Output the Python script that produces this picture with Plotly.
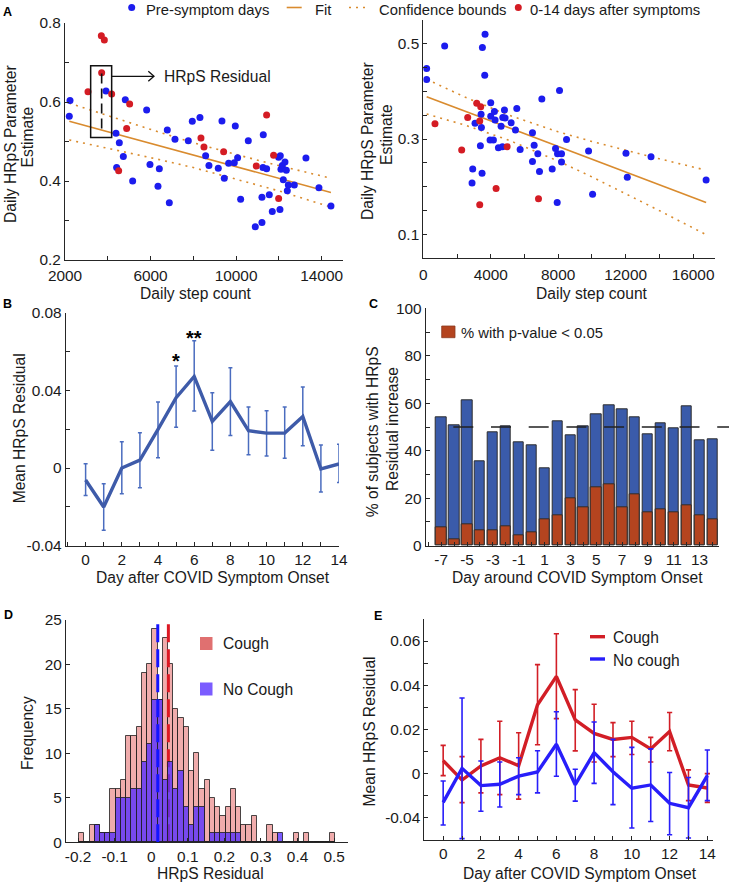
import plotly.graph_objects as go

W, H = 729, 883
def fx(p): return p / W
def fy(p): return 1 - p / H

FONT = "Liberation Sans, Arial, sans-serif"
TXT = "#1a1a1a"
AXC = "#262626"
TICKFS = 15.4
TITLEFS = 15.6
LEGFS = 14.8

# ---------------- Panel A (left) ----------------
a1_pre_x = [2234, 2200, 3917, 4384, 4540, 4415, 4727, 4820, 5164, 5818, 5974, 6411, 6348, 6784, 6878, 7143, 7766, 7953, 8311, 8576,
            8732, 9168, 9340, 9449, 9652, 9917, 10072, 9963, 10571, 10213, 10898, 11210, 11272, 11210, 11257, 11428, 11553, 11693, 12052, 11990,
            12068, 12099, 12162, 12208, 12286, 12349, 12396, 12443, 12723, 13267, 13875, 14436]
a1_pre_y = [0.604, 0.564, 0.628, 0.521, 0.497, 0.434, 0.462, 0.606, 0.400, 0.580, 0.442, 0.431, 0.387, 0.529, 0.345, 0.506, 0.502, 0.551, 0.561, 0.464,
            0.439, 0.432, 0.552, 0.407, 0.445, 0.446, 0.459, 0.539, 0.502, 0.354, 0.284, 0.295, 0.517, 0.359, 0.434, 0.431, 0.365, 0.323, 0.328, 0.460,
            0.464, 0.430, 0.439, 0.403, 0.448, 0.427, 0.375, 0.390, 0.390, 0.458, 0.383, 0.337]
a1_post_x = [3699, 3839, 3714, 3075, 4182, 5023, 4883, 4509, 8358, 8498, 9418, 10945, 11428, 11755, 11990]
a1_post_y = [0.768, 0.757, 0.674, 0.626, 0.620, 0.595, 0.533, 0.426, 0.509, 0.486, 0.474, 0.438, 0.567, 0.465, 0.356]
a1_fit_x = [2200, 14436]
a1_fit_y = [0.551, 0.371]
a1_bnd_x = [2200, 3500, 5000, 6500, 8000, 10000, 12000, 14436]
a1_bnd_up = [0.597, 0.574, 0.547, 0.522, 0.497, 0.467, 0.439, 0.407]
a1_bnd_lo = [0.504, 0.489, 0.472, 0.453, 0.434, 0.405, 0.375, 0.334]

# ---------------- Panel A (right) ----------------
a2_pre_x = [198, 198, 1267, 3663, 3505, 3644, 2931, 2891, 3485, 3386, 3069, 3426, 3446, 4000, 4000, 3960, 4158, 4218, 4257, 4812,
            4713, 4851, 4614, 4455, 4693, 5208, 5465, 5545, 5743, 6475, 6574, 6475, 7030, 6792, 6891, 7644, 7842, 7960, 8198, 8198,
            8495, 8079, 7941, 9802, 10040, 12020, 12099, 13505, 16772]
a2_pre_y = [0.448, 0.425, 0.495, 0.520, 0.492, 0.434, 0.237, 0.208, 0.228, 0.286, 0.333, 0.352, 0.324, 0.376, 0.348, 0.298, 0.298, 0.358, 0.340, 0.361,
            0.345, 0.344, 0.327, 0.282, 0.284, 0.334, 0.319, 0.364, 0.278, 0.313, 0.287, 0.253, 0.384, 0.269, 0.232, 0.237, 0.280, 0.269, 0.269, 0.252,
            0.299, 0.402, 0.167, 0.275, 0.184, 0.270, 0.220, 0.263, 0.214]
a2_post_x = [693, 2277, 2634, 3168, 3406, 3347, 3347, 4317, 4970, 6832]
a2_post_y = [0.332, 0.277, 0.345, 0.375, 0.368, 0.338, 0.162, 0.196, 0.284, 0.175]
a2_fit_x = [198, 16772]
a2_fit_y = [0.389, 0.167]
a2_bnd_x = [200, 2500, 5000, 8000, 10000, 12000, 14000, 16700]
a2_bnd_up = [0.4255, 0.3875, 0.3509, 0.3151, 0.2950, 0.2764, 0.2586, 0.2353]
a2_bnd_lo = [0.3525, 0.3289, 0.2985, 0.2539, 0.2206, 0.1856, 0.1498, 0.1007]

# ---------------- Panel B ----------------
b_days = list(range(15))
b_mean = [-0.0062, -0.0201, 0.0000, 0.0041, 0.0199, 0.0362, 0.0472, 0.0240, 0.0342, 0.0192, 0.0180, 0.0180, 0.0266, -0.0005, 0.0021]
b_hi = [0.0022, -0.0081, 0.0136, 0.0182, 0.0340, 0.0525, 0.0656, 0.0388, 0.0517, 0.0314, 0.0295, 0.0314, 0.0417, 0.0118, 0.0122]
b_lo = [-0.0142, -0.0321, -0.0132, -0.0101, 0.0053, 0.0210, 0.0294, 0.0091, 0.0167, 0.0069, 0.0062, 0.0051, 0.0115, -0.0124, -0.0074]
b_star_days = [5, 6]
b_star_y = [0.0582, 0.0699]
b_star_txt = ["*", "**"]
b_yticks = [-0.04, 0, 0.04, 0.08]
b_yticktext = ["-0.04", "0", "0.04", "0.08"]

# ---------------- Panel C ----------------
c_days = list(range(-7, 15))
c_increase = [54.1, 50.8, 61.2, 35.5, 47.8, 50.3, 43.4, 42.3, 32.6, 52.4, 46.5, 50.3, 55.2, 59.1, 57.3, 54.1, 46.9, 51.7, 49.4, 58.6, 44.4, 44.7]
c_signif = [7.7, 2.9, 9.1, 6.3, 6.6, 8.0, 4.2, 5.5, 11.2, 12.6, 19.8, 16.2, 24.7, 25.8, 16.0, 21.6, 14.0, 15.3, 13.9, 16.9, 12.9, 11.2]
c_xticks = [-7, -5, -3, -1, 1, 3, 5, 7, 9, 11, 13]
c_xticktext = ["-7", "-5", "-3", "-1", "1", "3", "5", "7", "9", "11", "13"]

# ---------------- Panel D ----------------
d_bin_start = -0.19
d_bin_width = 0.0143
d_cough = [1, 0, 2, 2, 1, 1, 6, 6, 7, 12, 12, 13, 19, 20, 24, 16, 23, 20, 15, 14, 13, 8, 10, 6, 7, 5, 4, 3, 4, 6,
           4, 2, 2, 3, 0, 0, 2, 1, 0, 0, 0, 1, 0, 1, 0, 0, 0, 0, 1]
d_nocough = [0, 0, 0, 2, 1, 1, 1, 5, 5, 5, 6, 6, 9, 11, 16, 16, 7, 9, 6, 8, 4, 2, 4, 4, 0, 1, 1, 1, 1, 1,
             1, 0, 0, 0, 0, 0, 0, 0, 1, 0, 0, 0, 0, 0, 0, 0, 0, 0, 0]
d_centers = [round(d_bin_start + i * d_bin_width, 5) for i in range(len(d_cough))]
d_mean_cough = 0.0469
d_mean_nocough = 0.0179
d_xticks = [-0.2, -0.1, 0, 0.1, 0.2, 0.3, 0.4, 0.5]
d_xticktext = ["-0.2", "-0.1", "0", "0.1", "0.2", "0.3", "0.4", "0.5"]

# ---------------- Panel E ----------------
e_days = list(range(15))
e_cough = [0.0059, -0.0029, 0.0035, 0.0072, 0.0036, 0.0312, 0.0440, 0.0243, 0.0182, 0.0155, 0.0164, 0.0112, 0.0191, -0.0051, -0.0065]
e_cough_hi = [0.0128, 0.0077, 0.0155, 0.0237, 0.0185, 0.0493, 0.0633, 0.0380, 0.0314, 0.0231, 0.0237, 0.0164, 0.0277, 0.0017, 0.0000]
e_cough_lo = [-0.0009, -0.0131, -0.0087, -0.0095, -0.0115, 0.0131, 0.0249, 0.0103, 0.0053, 0.0077, 0.0087, 0.0053, 0.0104, -0.0122, -0.0130]
e_noc = [-0.0130, 0.0024, -0.0054, -0.0048, -0.0011, 0.0008, 0.0133, -0.0050, 0.0095, 0.0009, -0.0066, -0.0051, -0.0134, -0.0154, -0.0009]
e_noc_hi = [-0.0033, 0.0342, 0.0057, 0.0053, 0.0072, 0.0104, 0.0280, 0.0020, 0.0234, 0.0155, 0.0119, 0.0112, 0.0005, -0.0017, 0.0107]
e_noc_lo = [-0.0232, -0.0294, -0.0170, -0.0151, -0.0095, -0.0087, -0.0012, -0.0124, -0.0044, -0.0140, -0.0246, -0.0216, -0.0276, -0.0291, -0.0122]
e_yticks = [-0.02, 0, 0.02, 0.04, 0.06]
e_yticktext = ["-0.04", "0", "0.02", "0.04", "0.06"]

BLUE_PT = "rgb(28,28,238)"
RED_PT = "rgb(212,28,36)"
ORANGE = "#D98B2E"

fig = go.Figure()

# --- A left
fig.add_trace(go.Scatter(x=a1_bnd_x, y=a1_bnd_up, mode="lines", line=dict(color=ORANGE, width=1.6, dash="2px,5px"), xaxis="x", yaxis="y"))
fig.add_trace(go.Scatter(x=a1_bnd_x, y=a1_bnd_lo, mode="lines", line=dict(color=ORANGE, width=1.6, dash="2px,5px"), xaxis="x", yaxis="y"))
fig.add_trace(go.Scatter(x=a1_fit_x, y=a1_fit_y, mode="lines", line=dict(color=ORANGE, width=1.6), xaxis="x", yaxis="y"))
fig.add_trace(go.Scatter(x=a1_pre_x, y=a1_pre_y, mode="markers", marker=dict(color=BLUE_PT, size=7), xaxis="x", yaxis="y"))
fig.add_trace(go.Scatter(x=a1_post_x, y=a1_post_y, mode="markers", marker=dict(color=RED_PT, size=7), xaxis="x", yaxis="y"))

# --- A right
fig.add_trace(go.Scatter(x=a2_bnd_x, y=a2_bnd_up, mode="lines", line=dict(color=ORANGE, width=1.6, dash="2px,5px"), xaxis="x2", yaxis="y2"))
fig.add_trace(go.Scatter(x=a2_bnd_x, y=a2_bnd_lo, mode="lines", line=dict(color=ORANGE, width=1.6, dash="2px,5px"), xaxis="x2", yaxis="y2"))
fig.add_trace(go.Scatter(x=a2_fit_x, y=a2_fit_y, mode="lines", line=dict(color=ORANGE, width=1.6), xaxis="x2", yaxis="y2"))
fig.add_trace(go.Scatter(x=a2_pre_x, y=a2_pre_y, mode="markers", marker=dict(color=BLUE_PT, size=7), xaxis="x2", yaxis="y2"))
fig.add_trace(go.Scatter(x=a2_post_x, y=a2_post_y, mode="markers", marker=dict(color=RED_PT, size=7), xaxis="x2", yaxis="y2"))

# --- B
BCOL = "#3E5BA9"
fig.add_trace(go.Scatter(
    x=b_days, y=b_mean, mode="lines", line=dict(color=BCOL, width=3.4),
    error_y=dict(type="data", symmetric=False,
                 array=[h - m for h, m in zip(b_hi, b_mean)],
                 arrayminus=[m - l for m, l in zip(b_mean, b_lo)],
                 color="#4a6cbf", thickness=1.5, width=2),
    xaxis="x3", yaxis="y3"))

# --- C
fig.add_trace(go.Bar(x=c_days, y=c_increase, width=0.8, marker=dict(color="#3A5BAA", line=dict(color="#2e2e2e", width=1)),
                     xaxis="x4", yaxis="y4"))
fig.add_trace(go.Bar(x=c_days, y=c_signif, width=0.8, marker=dict(color="#B4441F", line=dict(color="#2e2e2e", width=1)),
                     xaxis="x4", yaxis="y4"))

# --- D (cough histogram on base axes, no-cough on overlay axes)
fig.add_trace(go.Bar(x=d_centers, y=d_cough, width=d_bin_width,
                     marker=dict(color="rgba(222,70,70,0.45)", line=dict(color="rgba(30,30,30,0.8)", width=1)),
                     xaxis="x5", yaxis="y5"))
fig.add_trace(go.Scatter(x=[d_mean_cough, d_mean_cough], y=[0, 25], mode="lines",
                         line=dict(color="rgb(220,25,35)", width=3, dash="18px,7px"), xaxis="x5", yaxis="y5"))
fig.add_trace(go.Bar(x=d_centers, y=d_nocough, width=d_bin_width,
                     marker=dict(color="rgba(85,45,255,0.78)", line=dict(color="rgba(30,30,30,0.8)", width=1)),
                     xaxis="x7", yaxis="y7"))
fig.add_trace(go.Scatter(x=[d_mean_nocough, d_mean_nocough], y=[0, 25], mode="lines",
                         line=dict(color="rgb(20,20,255)", width=3, dash="18px,7px"), xaxis="x7", yaxis="y7"))

# --- E
ERED = "rgb(210,30,38)"
EBLUE = "rgb(40,30,250)"
fig.add_trace(go.Scatter(
    x=e_days, y=e_cough, mode="lines", line=dict(color=ERED, width=3.4),
    error_y=dict(type="data", symmetric=False,
                 array=[h - m for h, m in zip(e_cough_hi, e_cough)],
                 arrayminus=[m - l for m, l in zip(e_cough, e_cough_lo)],
                 color=ERED, thickness=1.6, width=2.6),
    xaxis="x6", yaxis="y6"))
fig.add_trace(go.Scatter(
    x=e_days, y=e_noc, mode="lines", line=dict(color=EBLUE, width=3.4),
    error_y=dict(type="data", symmetric=False,
                 array=[h - m for h, m in zip(e_noc_hi, e_noc)],
                 arrayminus=[m - l for m, l in zip(e_noc, e_noc_lo)],
                 color=EBLUE, thickness=1.6, width=2.6),
    xaxis="x6", yaxis="y6"))


def axis(dom, rng, anchor, tickvals=None, ticktext=None, dtick=None, tick0=None, minor=None, fmt=None, standoff=None):
    d = dict(domain=[dom[0], dom[1]], range=rng, anchor=anchor, showgrid=False, zeroline=False,
             showline=True, linecolor=AXC, linewidth=1, ticks="inside", ticklen=4, tickwidth=1,
             tickcolor=AXC, tickfont=dict(family=FONT, size=TICKFS, color=TXT), fixedrange=True,
             automargin=False)
    if tickvals is not None:
        d.update(tickmode="array", tickvals=tickvals, ticktext=ticktext)
    else:
        d.update(tickmode="linear", dtick=dtick, tick0=tick0)
    if minor is not None:
        d["minor"] = dict(ticks="inside", ticklen=4, tickwidth=1, tickcolor=AXC, showgrid=False, **minor)
    if fmt:
        d["tickformat"] = fmt
    if standoff is not None:
        d["ticklabelstandoff"] = standoff
    return d


layout = dict(
    width=W, height=H, margin=dict(l=0, r=0, t=0, b=0, autoexpand=False), showlegend=False,
    paper_bgcolor="white", plot_bgcolor="rgba(0,0,0,0)", barmode="overlay", bargap=0,
    font=dict(family=FONT, color=TXT),
    xaxis=axis((fx(65), fx(343)), [2000, 15000], "y", dtick=4000, tick0=2000, minor=dict(dtick=2000, tick0=2000), fmt="d", standoff=2),
    yaxis=axis((fy(260), fy(23)), [0.2, 0.8], "x", dtick=0.2, tick0=0.2, minor=dict(dtick=0.1, tick0=0.2)),
    xaxis2=axis((fx(423.3), fx(715)), [0, 17300], "y2", dtick=4000, tick0=0, minor=dict(dtick=2000, tick0=0), fmt="d", standoff=2),
    yaxis2=axis((fy(258.2), fy(19.9)), [0.05, 0.55], "x2", tickvals=[0.1, 0.3, 0.5], ticktext=["0.1", "0.3", "0.5"],
                minor=dict(dtick=0.05, tick0=0.05)),
    xaxis3=axis((fx(65.7), fx(339)), [-1.1, 14], "y3", dtick=2, tick0=0, minor=dict(dtick=1, tick0=0)),
    yaxis3=axis((fy(545.7), fy(312.7)), [-0.04, 0.08], "x3", tickvals=b_yticks, ticktext=b_yticktext,
                minor=dict(dtick=0.02, tick0=0)),
    xaxis4=axis((fx(425.7), fx(719)), [-8.2, 14.5], "y4", tickvals=c_xticks, ticktext=c_xticktext,
                minor=dict(dtick=1, tick0=0)),
    yaxis4=axis((fy(545.7), fy(308.3)), [0, 100], "x4", dtick=20, tick0=0, minor=dict(dtick=10, tick0=0)),
    xaxis5=axis((fx(66), fx(348)), [-0.233, 0.538], "y5", tickvals=d_xticks, ticktext=d_xticktext),
    yaxis5=axis((fy(842.3), fy(620)), [0, 25], "x5", dtick=5, tick0=0),
    xaxis7=dict(domain=[fx(66), fx(348)], range=[-0.233, 0.538], overlaying="x5", anchor="y7", visible=False, fixedrange=True),
    yaxis7=dict(domain=[fy(842.3), fy(620)], range=[0, 25], overlaying="y5", anchor="x7", visible=False, fixedrange=True),
    xaxis6=axis((fx(424.3), fx(713)), [-1, 14.3], "y6", dtick=2, tick0=0, minor=dict(dtick=1, tick0=0)),
    yaxis6=axis((fy(840), fy(618.9)), [-0.03, 0.07], "x6", tickvals=e_yticks, ticktext=e_yticktext,
                minor=dict(tickvals=[-0.03, -0.01, 0.01, 0.03, 0.05, 0.07])),
)
fig.update_layout(**layout)

shapes = []
ann = []

def text(x, y, s, size=TITLEFS, xanchor="center", angle=0, bold=False, color=TXT):
    ann.append(dict(x=fx(x), y=fy(y), xref="paper", yref="paper", text=("<b>%s</b>" % s) if bold else s,
                    showarrow=False, xanchor=xanchor, yanchor="middle", textangle=angle,
                    font=dict(family=FONT, size=size, color=color)))

# panel letters
for lab, x, y in [("A", 8, 12), ("B", 8, 304), ("C", 373.5, 304), ("D", 8.3, 615), ("E", 377.7, 616)]:
    text(x, y, lab, size=12.5, bold=True, color="#000")

# axis titles
text(196, 294, "Daily step count")
text(592, 294, "Daily step count")
text(213, 577.5, "Day after COVID Symptom Onset")
text(577, 577.5, "Day around COVID Symptom Onset")
text(210, 873.5, "HRpS Residual")
text(580, 873, "Day after COVID Symptom Onset")
text(10, 144, "Daily HRpS Parameter", angle=-90)
text(27, 137.5, "Estimate", angle=-90)
text(368, 141, "Daily HRpS Parameter", angle=-90)
text(386, 134, "Estimate", angle=-90)
text(19.3, 428, "Mean HRpS Residual", angle=-90)
text(372.5, 431.7, "% of subjects with HRpS", angle=-90)
text(392, 429, "Residual increase", angle=-90)
text(27.5, 732.5, "Frequency", angle=-90)
text(369.7, 731.7, "Mean HRpS Residual", angle=-90)

# top legend
def circ(x, y, r, col):
    shapes.append(dict(type="circle", xref="paper", yref="paper", x0=fx(x - r), x1=fx(x + r), y0=fy(y + r), y1=fy(y - r),
                       fillcolor=col, line=dict(width=0)))

def seg(x0, y0, x1, y1, col, w, dash="solid"):
    shapes.append(dict(type="line", xref="paper", yref="paper", x0=fx(x0), x1=fx(x1), y0=fy(y0), y1=fy(y1),
                       line=dict(color=col, width=w, dash=dash)))

circ(131.7, 7.5, 3.5, BLUE_PT)
text(144, 9.5, "Pre-symptom days", size=LEGFS, xanchor="left")
seg(286.7, 7.5, 301.7, 7.5, ORANGE, 1.6)
text(313, 9.5, "Fit", size=LEGFS, xanchor="left")
seg(349, 7.5, 369, 7.5, ORANGE, 1.6, "2px,5px")
text(377, 9.5, "Confidence bounds", size=LEGFS, xanchor="left")
circ(518.3, 7.5, 3.5, RED_PT)
text(528, 9.5, "0-14 days after symptoms", size=LEGFS, xanchor="left")

# A left annotation box / residual / arrow
shapes.append(dict(type="rect", xref="x", yref="y", x0=3200, x1=4182, y0=0.510, y1=0.692, line=dict(color="#111", width=1.5)))
shapes.append(dict(type="line", xref="x", yref="y", x0=3714, x1=3714, y0=0.672, y1=0.530,
                   line=dict(color="#111", width=1.6, dash="10px,5px")))
shapes.append(dict(type="line", xref="x", yref="y", x0=4182, x1=6161, y0=0.665, y1=0.665, line=dict(color="#111", width=1.3)))
shapes.append(dict(type="path", xref="x", yref="y",
                   path="M %f,%f L %f,%f L %f,%f" % (6161 - 266, 0.665 + 0.0127, 6161, 0.665, 6161 - 266, 0.665 - 0.0127),
                   line=dict(color="#111", width=1.3)))
ann.append(dict(x=6519, y=0.665, xref="x", yref="y", text="HRpS Residual", showarrow=False, xanchor="left", yanchor="middle",
                font=dict(family=FONT, size=TITLEFS, color=TXT)))

# B stars
for dday, yy, s in zip(b_star_days, b_star_y, b_star_txt):
    ann.append(dict(x=dday, y=yy, xref="x3", yref="y3", text="<b>%s</b>" % s, showarrow=False, yshift=-6,
                    font=dict(family=FONT, size=20, color="#000")))

# C dashed 50% line and legend
shapes.append(dict(type="line", xref="paper", yref="y4", x0=fx(453.3), x1=1.0, y0=50, y1=50,
                   line=dict(color="#222", width=1.5, dash="20px,17.7px")))
shapes.append(dict(type="rect", xref="paper", yref="paper", x0=fx(441.7), x1=fx(455), y0=fy(337.7), y1=fy(326),
                   fillcolor="#B4441F", line=dict(color="#8a3a20", width=0.8)))
text(459.3, 332.5, "% with p-value < 0.05", size=LEGFS, xanchor="left")

# D legend
shapes.append(dict(type="rect", xref="paper", yref="paper", x0=fx(200), x1=fx(212.5), y0=fy(650), y1=fy(637),
                   fillcolor="rgb(224,112,112)", line=dict(width=0)))
text(220.5, 643.5, "Cough", xanchor="left")
shapes.append(dict(type="rect", xref="paper", yref="paper", x0=fx(200), x1=fx(212.5), y0=fy(695.5), y1=fy(682.5),
                   fillcolor="rgb(123,92,255)", line=dict(width=0)))
text(220.5, 689.5, "No Cough", xanchor="left")

# E legend
seg(590, 636.7, 605, 636.7, ERED, 3.4)
text(610.7, 637.5, "Cough", xanchor="left")
seg(590, 659, 605, 659, EBLUE, 3.4)
text(610.7, 660, "No cough", xanchor="left")

fig.update_layout(shapes=shapes, annotations=ann)
fig.write_html("out.html", config={"displayModeBar": False},
               post_script="document.body.style.margin='0';document.body.style.overflow='hidden';")
